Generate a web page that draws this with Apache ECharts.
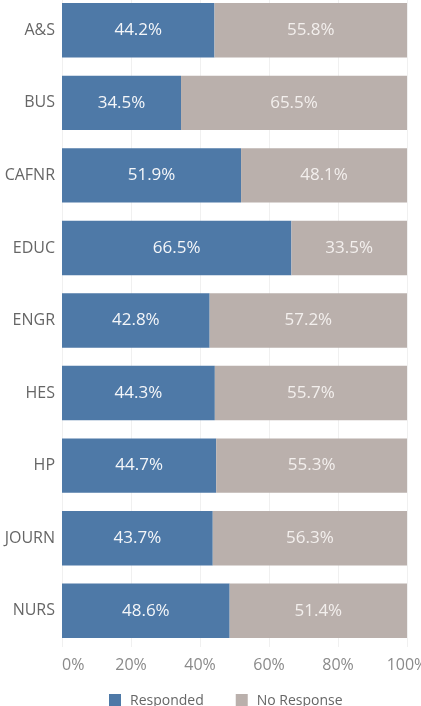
<!DOCTYPE html>
<html><head><meta charset="utf-8">
<script src="https://cdn.jsdelivr.net/npm/echarts@6/dist/echarts.min.js"></script>
<style>html,body{margin:0;padding:0;background:#fff}#c{width:421px;height:706px}</style>
</head><body><div id="c"></div>
<script>
const categories = ["A&S","BUS","CAFNR","EDUC","ENGR","HES","HP","JOURN","NURS"];
const responded = [44.2,34.5,51.9,66.5,42.8,44.3,44.7,43.7,48.6];
const noResponse = [55.8,65.5,48.1,33.5,57.2,55.7,55.3,56.3,51.4];
const seriesNames = ["Responded","No Response"];

const chart = echarts.init(document.getElementById('c'), null, {renderer:'canvas'});
const font = '"Open Sans", Lato, sans-serif';
chart.setOption({
  animation:false,
  textStyle:{fontFamily:font},
  grid:{left:62,right:14,top:-6,bottom:59,containLabel:false,outerBoundsMode:'none'},
  legend:{
    data:seriesNames, bottom:-7, left:104, itemWidth:12, itemHeight:14, itemGap:32,
    icon:'rect', textStyle:{fontSize:14,color:'#666',fontFamily:font,padding:[0,0,0,4]}
  },
  xAxis:{
    type:'value', min:0, max:100, interval:20,
    axisLabel:{formatter:'{value}%', color:'#8a8a8a', fontSize:16, margin:10, fontFamily:font, alignMinLabel:'left'},
    splitLine:{show:true,lineStyle:{color:'#f0f0f0',width:1}},
    axisLine:{show:false}, axisTick:{show:false}
  },
  yAxis:{
    type:'category', data:categories, inverse:true,
    axisLabel:{color:'#666', fontSize:16, margin:7, fontFamily:font},
    axisLine:{show:false}, axisTick:{show:false}
  },
  series:[
    {name:seriesNames[0], type:'bar', stack:'t', data:responded, barCategoryGap:'25%',
     itemStyle:{color:'#4e79a7'},
     label:{show:true, position:'inside', formatter:p=>p.value.toFixed(1)+'%', color:'#f4f6f9', fontSize:17, fontFamily:font}},
    {name:seriesNames[1], type:'bar', stack:'t', data:noResponse, barCategoryGap:'25%',
     itemStyle:{color:'#bab0ac'},
     label:{show:true, position:'inside', formatter:p=>p.value.toFixed(1)+'%', color:'#f3efed', fontSize:17, fontFamily:font}}
  ]
});
</script></body></html>
